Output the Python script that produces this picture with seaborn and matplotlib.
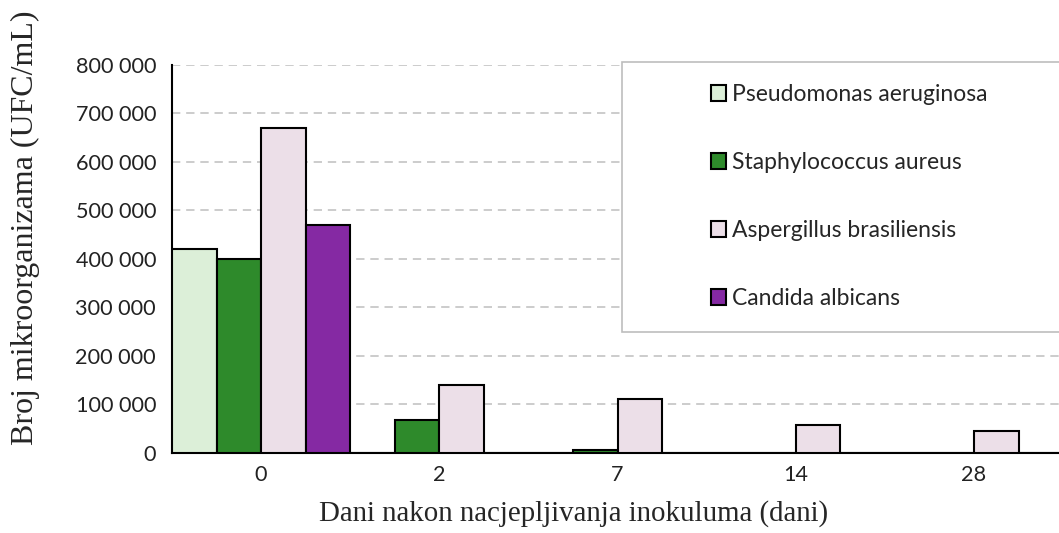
import pandas as pd
import numpy as np
import seaborn as sns
import matplotlib.pyplot as plt
from matplotlib.patches import Rectangle
from matplotlib.ticker import FuncFormatter

days = ['0', '2', '7', '14', '28']
species = ['Pseudomonas aeruginosa', 'Staphylococcus aureus',
           'Aspergillus brasiliensis', 'Candida albicans']
pseudomonas = [420000, 0, 0, 0, 0]
staphylococcus = [400000, 67000, 5000, 0, 0]
aspergillus = [670000, 140000, 110000, 58000, 45000]
candida = [470000, 0, 0, 0, 0]
colors = ['#dcefd8', '#2e8a2b', '#ecdfe8', '#8529a3']

rows = []
for name, vals in zip(species, [pseudomonas, staphylococcus, aspergillus, candida]):
    for d, v in zip(days, vals):
        rows.append({'day': d, 'species': name, 'count': v})
df = pd.DataFrame(rows)

sns.set_style('white')
plt.rcParams['font.family'] = ['Lato', 'DejaVu Sans']

W, H = 1059, 533
fig = plt.figure(figsize=(W / 100, H / 100), dpi=100)
ax = fig.add_axes([172 / W, (H - 452.7) / H, (W - 172) / W, (452.7 - 65) / H])

sns.barplot(data=df, x='day', y='count', hue='species', order=days,
            hue_order=species, palette=colors, width=1.0, gap=0,
            edgecolor='black', linewidth=1.5, saturation=1, ax=ax, zorder=3)

ax.set_ylim(0, 800000)
ax.set_xlim(-0.5, 4.477)
ax.set_yticks(np.arange(0, 800001, 100000))
ax.yaxis.set_major_formatter(FuncFormatter(lambda v, p: f'{int(v):,}'.replace(',', ' ')))
ax.grid(axis='y', color='#c4c4c4', linestyle=(0, (5, 3.5)), linewidth=1.2, zorder=0)
ax.set_axisbelow(True)
for s in ['top', 'right']:
    ax.spines[s].set_visible(False)
for s in ['left', 'bottom']:
    ax.spines[s].set_color('black')
    ax.spines[s].set_linewidth(1.5)
ax.tick_params(axis='y', length=6.5, width=1.2, color='#444444', pad=5,
               labelsize=15.6, labelcolor='#222222')
ax.tick_params(axis='x', length=0, pad=9, labelsize=15.6, labelcolor='#222222')
ax.set_xlabel('')
ax.set_ylabel('')

fig.text(574 / W, 1 - 514 / H, 'Dani nakon nacjepljivanja inokuluma (dani)',
         family='Liberation Serif', fontsize=20.8, ha='center', va='center')
fig.text(25 / W, 1 - 228 / H, 'Broj mikroorganizama (UFC/mL)',
         family='Liberation Serif', fontsize=23, rotation=90, ha='center', va='center')

# legend frame reaching past the right edge, like the cropped original
fig.add_artist(Rectangle((622 / W, 1 - 332 / H), 0.5, (332 - 62) / H,
                         transform=fig.transFigure, facecolor='white',
                         edgecolor='#bdbdbd', linewidth=1.2, zorder=5))
handles, labels = ax.get_legend_handles_labels()
ax.get_legend().remove()
leg = fig.legend(handles, labels, loc='upper left',
                 bbox_to_anchor=(711 / W, 1 - 84 / H), frameon=False,
                 fontsize=16.5, handlelength=0.66, handleheight=0.66,
                 handletextpad=0.27, labelspacing=2.05, borderpad=0,
                 borderaxespad=0)
leg.set_zorder(6)

fig.savefig('out.png', dpi=100)
